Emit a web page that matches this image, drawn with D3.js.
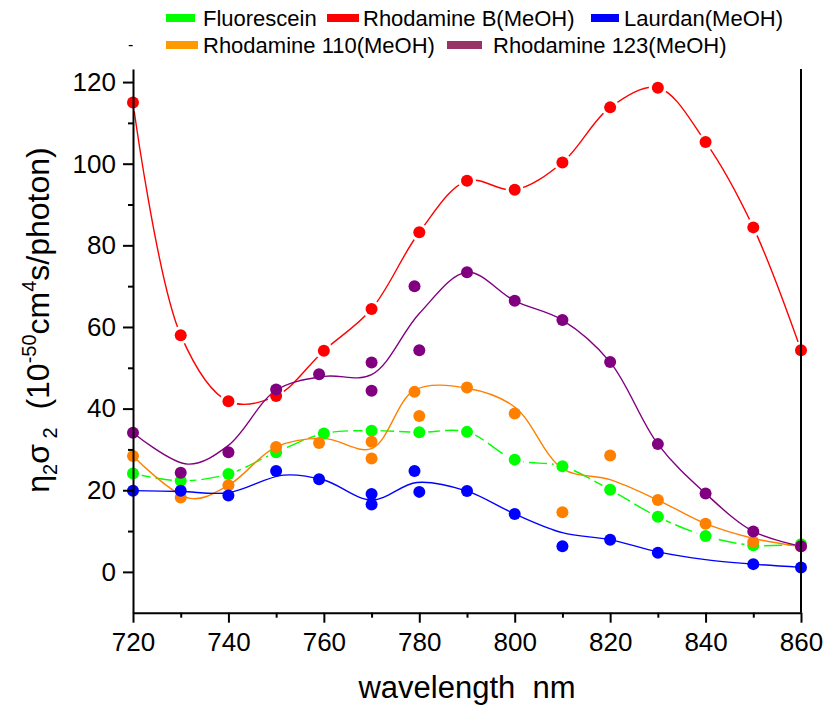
<!DOCTYPE html>
<html><head><meta charset="utf-8">
<script src="https://cdn.jsdelivr.net/npm/d3@7"></script>
<style>body{margin:0;background:#fff}text{font-family:"Liberation Sans",Arial,sans-serif}</style>
</head><body><svg id="c" width="829" height="710"></svg>
<script>
// ---------- data ----------
const xTicks = [720,740,760,780,800,820,840,860];
const xMinor = [730,750,770,790,810,830,850];
const yTicks = [0,20,40,60,80,100,120];
const yMinor = [10,30,50,70,90,110];

// Rhodamine B (MeOH)
const rbX = [720,730,740,750,760,770,780,790,800,810,820,830,840,850,860];
const rbY = [115,58,41.8,43.1,54.2,64.4,83.2,95.8,93.6,100.3,113.8,118.6,105.3,84.4,54.3];
// Fluorescein
const flX = [720,730,740,750,760,770,780,790,800,810,820,830,840,850,860];
const flY = [24.1,22.3,24.0,29.3,33.9,34.6,34.2,34.3,27.5,25.9,20.1,13.5,8.8,6.5,6.8];
// Laurdan (MeOH) points and smoothed curve
const laX = [720,730,740,750,759,770,770,779,780,790,800,810,820,830,850,860];
const laY = [19.9,19.9,18.7,24.7,22.7,19.1,16.5,24.7,19.6,19.8,14.2,6.3,7.9,4.7,1.9,1.1];
const laCX = [720,730,740,751.5,760,770,779.5,790,800,810,820,830,840,850,860];
const laCY = [19.9,19.7,19.4,23.7,22.5,17.6,21.9,19.8,14.2,9.6,7.9,4.9,3.0,1.9,1.1];
// Rhodamine 110 (MeOH)
const r110X = [720,730,740,750,759,770,770,779,780,790,800,810,820,830,840,850,860];
const r110Y = [28.4,18.2,21.2,30.6,31.6,31.9,27.8,44.1,38.2,45.2,38.8,14.6,28.5,17.6,11.8,7.4,6.2];
const r110CX = [720,732,740,750,760,770,779,790,800,810,820,830,840,850,860];
const r110CY = [28.4,18.0,21.2,30.6,32.7,30.2,44.5,45.0,40.4,25.3,22.6,17.6,11.8,8.2,6.2];
// Rhodamine 123 (MeOH)
const r123X = [720,730,740,750,759,770,770,779,780,790,800,810,820,830,840,850,860];
const r123Y = [34.1,24.3,29.3,44.7,48.4,51.3,44.4,70.0,54.3,73.4,66.4,61.7,51.4,31.3,19.2,9.9,6.3];
const r123CX = [720,731.5,740,750,760,770,780,790,800,810,820,830,840,850,860];
const r123CY = [34.1,26.4,31.0,44.5,47.9,48.3,63.3,73.4,66.4,61.7,51.4,31.3,19.2,9.9,6.3];

const legendRow1 = ["Fluorescein","Rhodamine B(MeOH)","Laurdan(MeOH)"];
const legendRow2 = ["Rhodamine 110(MeOH)","Rhodamine 123(MeOH)"];

// ---------- chart ----------
const svg = d3.select("#c");
const x = d3.scaleLinear([720,860],[133,801]);
const y = d3.scaleLinear([-10,123.2],[612.7,69]);
const zip = (a,b)=>a.map((v,i)=>[v,b[i]]);

const series = [
  {name:"rb", color:"#ff0000", pts:zip(rbX,rbY), curve:zip(rbX,rbY), gap:true, dash:null},
  {name:"fl", color:"#00ff00", pts:zip(flX,flY), curve:zip(flX,flY), gap:true, dash:"18,5"},
  {name:"r110", color:"#ff8000", pts:zip(r110X,r110Y), curve:zip(r110CX,r110CY), gap:false, dash:null},
  {name:"la", color:"#0000ff", pts:zip(laX,laY), curve:zip(laCX,laCY), gap:false, dash:null},
  {name:"r123", color:"#800080", pts:zip(r123X,r123Y), curve:zip(r123CX,r123CY), gap:false, dash:null}
];

const defs = svg.append("defs");
const line = d3.line().x(d=>x(d[0])).y(d=>y(d[1])).curve(d3.curveCatmullRom.alpha(0.5));

series.forEach(s=>{
  if(s.gap){
    const m = defs.append("mask").attr("id","m-"+s.name).attr("maskUnits","userSpaceOnUse")
      .attr("x",0).attr("y",0).attr("width",829).attr("height",710);
    m.append("rect").attr("width",829).attr("height",710).attr("fill","#fff");
    m.selectAll("circle").data(s.pts).join("circle")
      .attr("cx",d=>x(d[0])).attr("cy",d=>y(d[1])).attr("r",9).attr("fill","#000");
  }
  svg.append("path").datum(s.curve).attr("d",line)
    .attr("fill","none").attr("stroke",s.color).attr("stroke-width",1.4)
    .attr("stroke-dasharray", s.dash)
    .attr("mask", s.gap ? "url(#m-"+s.name+")" : null);
});
series.forEach(s=>{
  svg.append("g").selectAll("circle").data(s.pts).join("circle")
    .attr("cx",d=>x(d[0])).attr("cy",d=>y(d[1])).attr("r",6).attr("fill",s.color);
});

// axes
const fs = 26;
const gy = svg.append("g").attr("transform","translate(133,0)")
  .call(d3.axisLeft(y).tickValues(yTicks).tickSize(10).tickSizeOuter(0).tickPadding(7));
gy.selectAll("text").attr("font-size",fs).attr("font-family","Liberation Sans, Arial").attr("fill","#000");
const gym = svg.append("g").attr("transform","translate(133,0)")
  .call(d3.axisLeft(y).tickValues(yMinor).tickSize(5).tickFormat(""));
gym.select(".domain").remove();

const gx = svg.append("g").attr("transform","translate(0,612.7)")
  .call(d3.axisBottom(x).tickValues(xTicks).tickSize(10).tickSizeOuter(0).tickPadding(10));
gx.selectAll("text").attr("font-size",fs).attr("font-family","Liberation Sans, Arial").attr("fill","#000");
const gxm = svg.append("g").attr("transform","translate(0,612.7)")
  .call(d3.axisBottom(x).tickValues(xMinor).tickSize(5).tickFormat(""));
gxm.select(".domain").remove();
svg.selectAll(".domain, .tick line").attr("stroke","#000").attr("stroke-width",2);

// right border
svg.append("line").attr("x1",x(860)).attr("x2",x(860)).attr("y1",y.range()[1]).attr("y2",y.range()[0])
  .attr("stroke","#000").attr("stroke-width",2);

// axis titles
svg.append("text").attr("x",467).attr("y",698).attr("text-anchor","middle")
  .attr("font-size",31).style("white-space","pre").text("wavelength  nm");

const yt = svg.append("text").attr("transform","translate(49,320) rotate(-90)")
  .attr("text-anchor","middle").attr("font-size",32);
yt.append("tspan").text("η");
yt.append("tspan").attr("font-size",20).attr("dy",8).text("2");
yt.append("tspan").attr("dy",-8).text("σ");
yt.append("tspan").attr("font-size",20).attr("dy",8).style("white-space","pre").text(" 2");
yt.append("tspan").attr("dy",-8).style("white-space","pre").text("  (10");
yt.append("tspan").attr("font-size",20).attr("dy",-13).text("-50");
yt.append("tspan").attr("dy",13).text("cm");
yt.append("tspan").attr("font-size",20).attr("dy",-13).text("4");
yt.append("tspan").attr("dy",13).text("s/photon)");

// legend
const leg = [
  {t:legendRow1[0], c:"#00ff00", sx:166, sw:29, tx:203, row:0},
  {t:legendRow1[1], c:"#ff0000", sx:327, sw:32, tx:363, row:0},
  {t:legendRow1[2], c:"#0000ff", sx:591, sw:28, tx:624, row:0},
  {t:legendRow2[0], c:"#ff9900", sx:166, sw:32, tx:203, row:1},
  {t:legendRow2[1], c:"#993366", sx:447, sw:35, tx:493, row:1}
];
leg.forEach(l=>{
  const by = l.row===0 ? 26 : 53;
  svg.append("rect").attr("x",l.sx).attr("y",by-12).attr("width",l.sw).attr("height",8).attr("fill",l.c);
  svg.append("text").attr("x",l.tx).attr("y",by).attr("font-size",22).text(l.t);
});
svg.append("text").attr("x",128).attr("y",50).attr("font-size",16).text("-");
</script></body></html>
